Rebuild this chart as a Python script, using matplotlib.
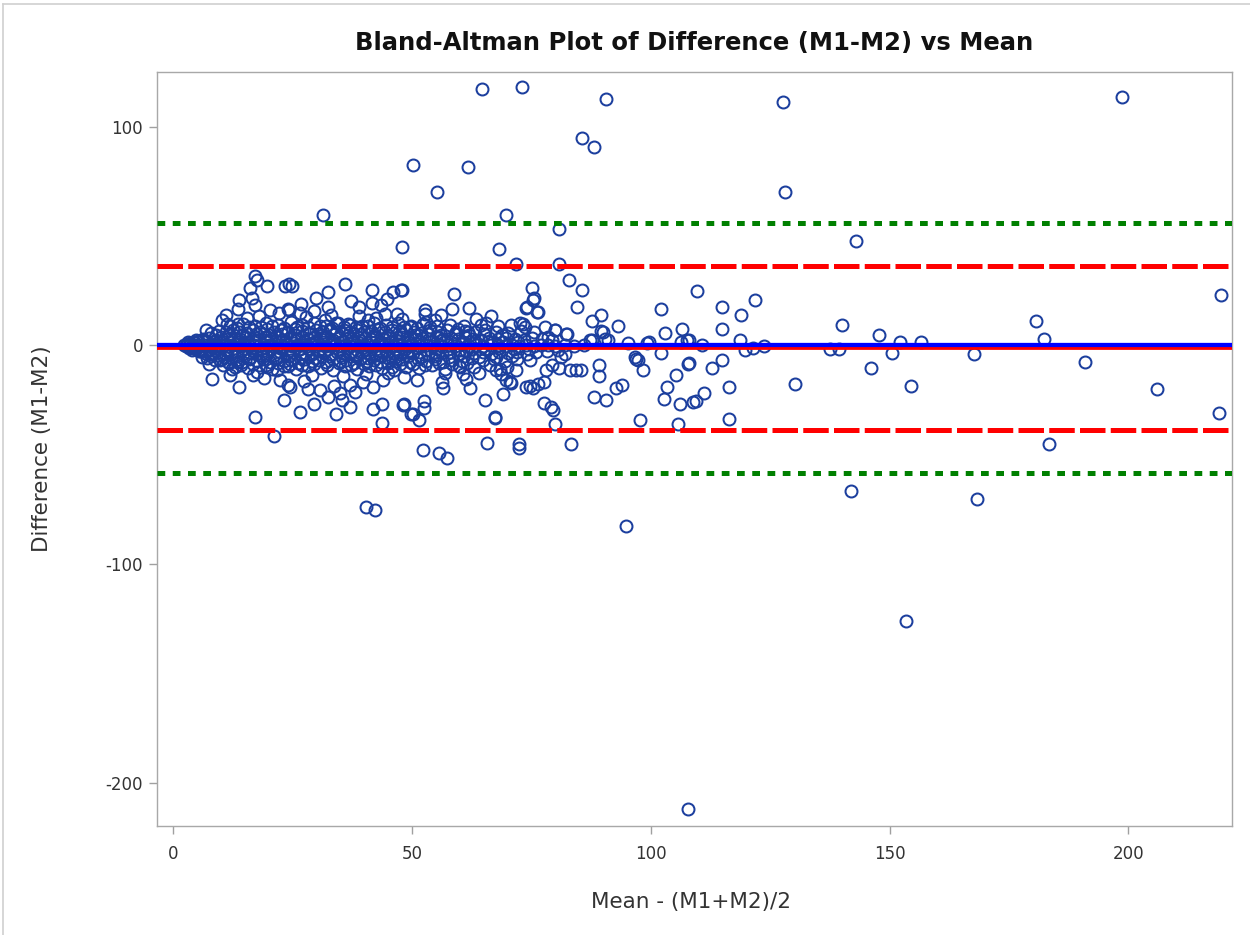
import matplotlib
matplotlib.use("Agg")
import matplotlib.pyplot as plt
from matplotlib.lines import Line2D

plt.rcParams['font.family'] = ['DejaVu Sans']
plt.rcParams['axes.unicode_minus'] = False

# summary stats of the differences
mean_diff = -1.2
loa_upper = 36.3
loa_lower = -38.7
sd3_upper = 56.0
sd3_lower = -58.4

# (mean, difference) pairs
tip_pts = [(2.4, 0.2), (2.7, -0.5), (3.0, 0.8), (3.3, -1.0), (3.6, 1.2), (4.0, -1.4),
           (4.4, 1.6), (4.8, -1.8), (5.2, 2.0), (5.7, -2.2), (6.2, 2.3), (3.2, 1.5),
           (4.0, -2.0), (4.8, 2.4), (5.6, -2.6), (6.6, -2.4)]

line_pts = [(2.8, 0.0), (3.5, 0.2), (4.2, -0.3), (5.0, 0.1), (5.8, -0.2), (6.6, 0.3),
            (7.4, -0.1), (8.2, 0.2), (9.0, -0.4), (9.8, 0.1), (10.6, 0.3), (11.5, -0.2),
            (12.4, 0.0), (13.3, 0.4), (14.2, -0.3), (15.1, 0.1), (16.0, -0.1), (17.0, 0.3),
            (18.0, -0.4), (19.0, 0.2), (20.0, 0.0), (21.0, -0.2), (22.0, 0.3), (23.0, -0.1),
            (24.0, 0.1), (25.0, -0.3), (26.0, 0.2), (27.0, 0.0), (28.0, -0.2), (29.0, 0.4),
            (30.0, -0.1), (31.0, 0.1), (32.0, -0.4), (33.0, 0.2), (34.0, 0.0), (35.0, -0.2),
            (36.0, 0.3), (37.0, -0.1), (38.0, 0.1), (39.0, -0.3), (40.0, 0.2), (41.0, 0.0),
            (42.0, -0.2), (43.0, 0.4), (44.0, -0.1), (45.0, 0.1), (46.0, -0.4), (47.0, 0.2),
            (48.0, 0.0), (49.0, -0.2), (50.0, 0.3), (51.5, -0.1), (53.0, 0.1), (54.5, -0.3),
            (56.0, 0.2), (57.5, 0.0), (59.0, -0.2), (60.5, 0.4), (62.0, -0.1), (63.5, 0.1),
            (65.0, -0.4), (66.5, 0.2), (68.0, 0.0), (69.5, -0.2), (71.0, 0.3), (72.5, -0.1),
            (74.0, 0.1), (75.5, -0.3), (77.0, 0.2), (78.5, 0.0), (80.0, -0.2), (82.0, 0.3),
            (84.0, -0.1), (86.0, 0.2)]

band_upper_pts = [(6.2, 2.8), (7.5, 3.4), (8.9, 2.6), (10.1, 3.7), (11.4, 2.9), (12.8, 3.5),
                  (14.0, 2.7), (15.3, 3.9), (16.7, 3.1), (18.0, 2.5), (19.2, 3.6), (20.5, 3.0),
                  (21.9, 3.8), (23.1, 2.6), (24.4, 3.3), (25.8, 2.9), (27.1, 3.7), (28.3, 2.7),
                  (29.6, 3.4), (31.0, 3.0), (32.3, 3.8), (33.5, 2.6), (34.8, 3.5), (36.2, 3.1),
                  (37.5, 2.8), (38.7, 3.6), (40.1, 3.2), (41.4, 2.7), (42.6, 3.9), (44.0, 3.0),
                  (45.3, 3.4), (46.6, 2.6), (48.0, 3.7), (49.3, 3.1), (50.7, 2.8), (52.1, 3.5),
                  (53.6, 3.0), (55.0, 3.8), (56.5, 2.7), (58.1, 3.3), (59.6, 2.9), (61.2, 3.6),
                  (62.9, 3.0), (64.5, 2.5), (66.2, 3.4), (68.0, 2.8), (69.7, 3.5), (71.5, 3.0),
                  (73.4, 2.6), (75.2, 3.3), (77.3, 2.7),
                  (8.0, 5.8), (9.6, 6.7), (11.0, 6.0), (12.5, 7.2), (13.9, 6.3), (15.4, 5.7),
                  (16.8, 6.9), (18.3, 6.2), (19.7, 7.4), (21.2, 5.9), (22.6, 6.8), (24.1, 6.1),
                  (25.5, 7.3), (27.0, 6.4), (28.4, 5.8), (29.9, 7.0), (31.3, 6.2), (32.8, 7.5),
                  (34.2, 6.0), (35.7, 6.9), (37.1, 6.3), (38.6, 7.2), (40.0, 5.9), (41.5, 6.7),
                  (42.9, 7.4), (44.4, 6.1), (45.8, 6.8), (47.3, 6.0), (48.8, 7.1), (50.4, 6.3),
                  (52.0, 5.8), (53.8, 6.9), (55.5, 6.2), (57.3, 7.0), (59.2, 6.0), (61.1, 6.6),
                  (63.2, 5.9), (65.4, 6.8), (67.7, 6.1), (70.1, 5.8), (72.8, 6.5), (75.6, 6.0),
                  (12.0, 9.0), (14.6, 9.8), (17.1, 8.9), (19.5, 10.2), (22.0, 9.3), (24.6, 10.6),
                  (27.1, 9.1), (29.5, 10.0), (32.0, 8.8), (34.5, 10.4), (37.0, 9.5), (39.6, 8.9),
                  (42.0, 10.3), (44.5, 9.2), (47.1, 10.1), (49.8, 9.0), (52.4, 9.7), (55.2, 8.8),
                  (58.0, 9.4), (61.0, 8.9), (64.5, 9.3), (68.0, 8.8)]

band_lower_pts = [(5.5, -2.6), (6.8, -3.3), (8.2, -3.9), (9.5, -2.9), (10.8, -3.6), (12.1, -4.1),
                  (13.4, -3.0), (14.7, -3.8), (16.0, -3.2), (17.4, -4.0), (18.6, -2.8), (19.9, -3.5),
                  (21.2, -4.2), (22.5, -3.1), (23.8, -3.7), (25.2, -2.9), (26.5, -4.0), (27.7, -3.3),
                  (29.0, -3.8), (30.4, -2.8), (31.7, -3.6), (33.0, -4.1), (34.3, -3.0), (35.6, -3.7),
                  (37.0, -3.2), (38.3, -4.0), (39.6, -2.9), (40.9, -3.5), (42.3, -4.2), (43.6, -3.1),
                  (44.9, -3.8), (46.2, -3.3), (47.6, -4.0), (48.9, -2.9), (50.3, -3.6), (51.8, -3.1),
                  (53.3, -3.9), (54.9, -3.0), (56.4, -3.7), (58.0, -3.2), (59.7, -4.0), (61.3, -2.8),
                  (63.0, -3.5), (64.8, -3.1), (66.5, -3.9), (68.3, -2.9), (70.2, -3.6), (72.0, -3.0),
                  (74.1, -3.8), (76.0, -3.2), (78.2, -2.7),
                  (7.2, -5.9), (8.7, -6.8), (10.2, -6.1), (11.6, -7.4), (13.1, -6.5), (14.5, -7.8),
                  (16.0, -6.2), (17.5, -7.1), (18.9, -6.4), (20.4, -7.7), (21.8, -6.0), (23.3, -7.2),
                  (24.7, -6.6), (26.2, -7.9), (27.6, -6.3), (29.1, -7.0), (30.5, -6.5), (32.0, -7.6),
                  (33.4, -6.1), (34.9, -7.3), (36.3, -6.7), (37.8, -7.9), (39.2, -6.2), (40.7, -7.0),
                  (42.1, -6.6), (43.6, -7.5), (45.0, -6.0), (46.5, -7.1), (48.0, -6.4), (49.6, -7.6),
                  (51.3, -6.3), (53.0, -7.0), (54.8, -6.1), (56.6, -7.4), (58.5, -6.5), (60.5, -7.2),
                  (62.6, -6.0), (64.8, -6.8), (67.1, -6.2), (69.5, -7.0), (72.0, -6.4), (74.8, -6.9),
                  (10.5, -9.0), (13.0, -9.8), (15.6, -10.4), (18.1, -9.2), (20.7, -10.6), (23.2, -9.5),
                  (25.8, -11.0), (28.3, -9.3), (30.9, -10.2), (33.5, -11.3), (36.0, -9.6), (38.6, -10.8),
                  (41.1, -9.4), (43.7, -10.5), (46.2, -11.1), (48.8, -9.7), (51.5, -10.3), (54.2, -9.1),
                  (57.0, -10.6), (59.8, -9.4), (63.0, -10.0), (66.4, -9.2), (70.0, -9.8)]

band_fill_pts = [(5.3, 1.4), (6.9, 1.8), (8.6, 1.5), (10.2, 1.9), (11.9, 1.3), (13.7, 1.7),
                 (15.5, 1.5), (17.4, 2.0), (19.5, 1.4), (21.5, 1.8), (23.4, 1.6), (25.4, 1.2),
                 (27.4, 1.9), (29.5, 1.5), (31.5, 1.7), (33.4, 1.3), (35.5, 1.8), (37.5, 1.6),
                 (39.4, 2.0), (41.5, 1.4), (43.5, 1.7), (45.4, 1.5), (47.4, 1.9), (49.5, 1.3),
                 (51.6, 1.7), (53.8, 1.5), (56.0, 1.8), (58.3, 1.4), (60.8, 1.6), (63.3, 1.9),
                 (66.0, 1.4), (69.0, 1.7), (72.2, 1.5),
                 (4.5, -1.2), (6.0, -1.6), (7.7, -1.9), (9.4, -1.5), (11.1, -2.0), (12.9, -1.4),
                 (14.8, -1.8), (16.6, -2.1), (18.5, -1.6), (20.5, -1.9), (22.4, -1.4), (24.5, -2.0),
                 (26.5, -1.7), (28.5, -1.5), (30.6, -2.1), (32.5, -1.6), (34.5, -1.9), (36.6, -1.4),
                 (38.5, -2.0), (40.5, -1.7), (42.6, -1.5), (44.5, -2.1), (46.5, -1.6), (48.6, -1.9),
                 (50.8, -1.4), (53.0, -2.0), (55.3, -1.7), (57.6, -1.5), (60.0, -2.0), (62.6, -1.6),
                 (65.3, -1.9), (68.2, -1.4), (71.3, -1.8), (74.6, -1.5),
                 (9.0, 4.6), (11.8, 5.1), (14.5, 4.8), (17.3, 5.3), (20.0, 4.7), (22.8, 5.0),
                 (25.6, 4.5), (28.4, 5.2), (31.1, 4.8), (33.9, 5.1), (36.7, 4.6), (39.4, 5.3),
                 (42.2, 4.9), (45.0, 4.5), (47.8, 5.2), (50.6, 4.8), (53.4, 5.0), (56.2, 4.6),
                 (59.0, 5.1), (62.0, 4.7), (65.2, 5.0), (68.8, 4.6),
                 (8.0, -4.9), (10.6, -5.4), (13.3, -5.0), (16.1, -5.6), (18.8, -5.1), (21.6, -5.5),
                 (24.3, -4.9), (27.1, -5.3), (29.8, -5.7), (32.6, -5.0), (35.3, -5.4), (38.1, -5.1),
                 (40.9, -5.6), (43.6, -4.9), (46.4, -5.3), (49.2, -5.0), (52.0, -5.5), (54.9, -5.1),
                 (57.8, -5.4), (60.9, -4.9), (64.1, -5.2), (67.6, -5.5), (71.0, -5.0),
                 (13.3, 8.0), (15.9, 8.6), (18.4, 8.2), (20.8, 8.8), (23.3, 8.1), (25.9, 8.5),
                 (28.3, 8.3), (30.8, 8.9), (33.3, 8.0), (35.8, 8.6), (38.3, 8.2), (40.8, 8.7),
                 (43.3, 8.1), (45.8, 8.5), (48.4, 8.3), (51.1, 8.0), (53.8, 8.4),
                 (11.8, -8.3), (14.3, -8.8), (16.8, -8.5), (19.4, -9.0), (21.9, -8.2), (24.5, -8.7),
                 (27.0, -9.1), (29.6, -8.4), (32.2, -8.9), (34.8, -8.2), (37.3, -8.8), (39.9, -8.5),
                 (42.4, -9.0), (45.0, -8.3), (47.5, -8.7), (50.2, -8.4), (52.8, -8.9), (55.6, -8.2),
                 (58.5, -8.6), (61.5, -8.3)]

spread_left_pts = [(8.1, -15.2), (13.8, -19.2), (23.2, -25.2), (24.1, -18.3), (17.2, 31.6),
                   (17.5, 30.1), (16.1, 26.4), (19.6, 27.0), (23.4, 27.0), (13.9, 20.6),
                   (13.7, 16.5), (17.2, 18.6), (11.1, 13.7), (10.3, 11.8), (11.2, 9.9),
                   (13.7, 9.9), (18.0, 13.3), (20.3, 16.0), (22.2, 14.8), (24.0, 16.8),
                   (6.9, 7.2), (6.0, -5.3), (7.6, -8.7), (9.8, -6.9), (12.3, -10.7),
                   (13.5, -7.6), (16.8, -13.7), (17.5, -12.2), (19.6, -9.9), (21.7, -11.4),
                   (24.0, -9.6), (25.0, 27.0), (24.3, 27.9), (32.4, 24.4), (36.1, 28.2),
                   (41.7, 25.5), (46.1, 24.4), (47.7, 25.2), (24.3, 16.3), (26.9, 19.1),
                   (29.6, 15.7), (32.4, 17.5), (37.2, 20.3), (38.9, 17.5), (41.6, 19.4),
                   (43.5, 18.6), (46.9, 14.5), (48.0, 12.0), (26.6, 14.8), (31.8, 11.4),
                   (34.2, 10.2), (36.7, 9.9), (40.9, 11.4), (44.4, 14.5), (24.5, -19.1),
                   (28.2, -19.8), (30.8, -20.6), (33.7, -18.8), (37.0, -18.3), (39.8, -16.8),
                   (41.9, -19.1), (44.0, -16.0), (45.8, -9.9), (26.6, -30.5), (29.6, -26.7),
                   (34.2, -31.3), (37.0, -28.2), (41.9, -29.3), (43.7, -26.7), (48.2, -27.5),
                   (49.9, -31.6), (35.3, -25.2), (32.5, -23.7), (15.5, 12.5), (19.0, -14.8),
                   (27.8, 12.8), (29.0, -13.5), (33.0, 13.9), (35.5, -14.2), (39.0, 13.2),
                   (40.5, -13.0), (45.0, -12.8), (42.5, 12.6), (30.0, 21.8), (35.0, -22.0),
                   (38.0, -21.5), (27.5, -16.5), (22.5, -16.0), (12.0, -13.5), (16.5, 21.5),
                   (44.8, 21.3)]

spread_mid_pts = [(65.5, 10.2), (70.7, 9.5), (73.3, 9.9), (74.0, 16.9), (76.5, 15.2),
                  (75.3, 20.6), (82.4, 5.0), (79.9, 7.2), (87.7, 2.6), (90.0, 6.1),
                  (80.8, -10.5), (83.2, -11.1), (84.3, -11.1), (85.5, -11.1), (79.4, -9.2),
                  (77.6, -16.8), (75.4, -19.4), (74.7, -18.8), (62.1, -19.4), (56.6, -19.4),
                  (56.4, -16.8), (51.0, -16.0), (48.3, -14.5), (67.7, -11.4), (68.4, -10.7),
                  (71.9, -11.1), (69.8, -16.0), (70.7, -17.2), (65.3, -25.2), (69.0, -22.1),
                  (48.3, -27.0), (52.5, -25.6), (52.5, -28.8), (50.2, -31.6), (51.5, -34.3),
                  (79.6, -29.7), (77.6, -26.4), (79.2, -28.2), (67.5, -32.8), (60.8, -13.0),
                  (61.4, -15.2), (60.0, -9.9), (70.5, -16.8), (74.0, -19.1), (76.4, -17.5),
                  (78.1, -11.4), (68.7, -13.0), (80.6, -2.3), (82.0, -3.8), (81.3, -5.3),
                  (77.8, 8.4), (79.9, 6.9), (82.2, 5.0), (79.4, 2.3), (78.5, 3.8),
                  (52.7, 14.5), (56.2, 13.7), (54.8, 11.8), (52.9, 10.7), (72.6, 10.2),
                  (73.6, 8.4), (59.7, 7.6), (61.8, 6.1), (49.6, 8.4), (57.0, -12.5),
                  (63.5, 12.0), (64.0, -12.8), (58.5, 16.5), (62.0, 17.0), (66.5, 13.5),
                  (84.6, 17.5), (82.9, 29.7), (85.7, 25.5), (75.2, 26.2), (75.5, 21.8),
                  (48.0, 25.5), (58.8, 23.6), (74.2, 17.5), (76.3, 15.1), (52.7, 16.0)]

spread_right_pts = [(114.9, 17.4), (119.0, 13.7), (121.8, 20.6), (114.9, 7.3), (108.0, 2.3),
                    (110.7, 0.0), (108.0, -8.2), (112.8, -10.5), (114.9, -6.9), (118.6, 2.3),
                    (119.7, -2.3), (121.5, -1.4), (123.8, -0.5), (111.1, -21.8), (109.4, -25.5),
                    (116.5, -19.2), (130.3, -17.5), (137.5, -1.5), (139.5, -1.5), (140.0, 9.2),
                    (146.2, -10.5), (147.7, 4.6), (150.6, -3.5), (152.3, 1.4), (154.4, -18.6),
                    (156.5, 1.4), (167.6, -4.1), (180.7, 11.0), (182.4, 2.7), (191.0, -7.8),
                    (205.9, -20.1), (219.5, 22.9), (109.6, 24.7), (102.2, 16.5), (102.9, 5.8),
                    (106.6, 7.6), (107.7, 2.6), (106.4, 1.5), (95.3, 1.0), (99.6, 1.7),
                    (99.3, 0.9), (102.2, -3.6), (96.7, -5.3), (97.3, -6.9), (98.4, -11.4),
                    (103.4, -19.1), (102.8, -24.4), (106.1, -27.0), (105.4, -13.7), (107.8, -8.4),
                    (108.9, -25.9), (93.2, 8.7), (89.7, 13.9), (87.8, 11.1), (89.7, 6.4),
                    (90.4, 3.1), (91.1, 2.3), (87.4, 2.3), (92.8, -19.4), (94.1, -18.3),
                    (88.2, -23.7), (90.7, -24.9), (89.1, -14.2), (89.1, -9.2), (97.0, -6.1)]

outlier_pts = [(64.6, 117.2), (73.1, 118.2), (90.6, 112.7), (198.7, 113.5), (127.8, 111.2),
               (85.7, 94.9), (88.2, 90.5), (50.3, 82.4), (61.7, 81.6), (55.2, 69.9),
               (128.2, 70.0), (31.4, 59.5), (69.8, 59.4), (80.8, 53.0), (142.9, 47.6),
               (48.0, 45.0), (68.2, 44.1), (71.9, 37.1), (80.8, 37.4),
               (107.8, -212.0), (153.5, -125.9), (94.8, -82.4), (40.4, -74.1), (42.3, -75.5),
               (168.4, -70.3), (142.0, -66.7), (52.4, -48.0), (55.6, -49.1), (57.4, -51.4),
               (65.8, -44.5), (72.4, -45.3), (72.4, -47.1), (83.3, -45.3), (183.3, -45.3),
               (21.2, -41.6), (17.2, -32.8), (43.7, -35.5), (97.7, -34.3), (105.8, -36.2),
               (116.5, -33.5), (67.4, -33.4), (79.9, -35.8), (219.0, -31.0)]

all_pts = (tip_pts + line_pts + band_upper_pts + band_lower_pts + band_fill_pts
           + spread_left_pts + spread_mid_pts + spread_right_pts + outlier_pts)
means = [p[0] for p in all_pts]
diffs = [p[1] for p in all_pts]

fig = plt.figure(figsize=(12.5, 9.35), dpi=100)
ax = fig.add_axes([0.1256, 0.1166, 0.8600, 0.8064])

ax.plot(means, diffs, linestyle='none', marker='o', markersize=8.6, markerfacecolor='none',
        markeredgecolor='#1c3f9e', markeredgewidth=1.45, zorder=2)

# reference lines, drawn over the points
ax.axhline(0, color='#0000ff', linewidth=3.8, zorder=3)
ax.axhline(mean_diff, color='#ff0000', linewidth=2.0, zorder=4)
ax.axhline(loa_upper, color='#ff0000', linewidth=3.6, dashes=(5.1, 1.05), dash_capstyle='butt', zorder=4)
ax.axhline(loa_lower, color='#ff0000', linewidth=3.6, dashes=(5.1, 1.05), dash_capstyle='butt', zorder=4)
ax.axhline(sd3_upper, color='#008000', linewidth=3.6, dashes=(1.55, 1.5), dash_capstyle='butt', zorder=4)
ax.axhline(sd3_lower, color='#008000', linewidth=3.6, dashes=(1.55, 1.5), dash_capstyle='butt', zorder=4)

ax.set_xlim(-3.35, 221.7)
ax.set_ylim(-219.8, 125.0)
ax.set_xticks([0, 50, 100, 150, 200])
ax.set_yticks([-200, -100, 0, 100])

for s in ax.spines.values():
    s.set_color('#a8a8a8')
    s.set_linewidth(1.0)
ax.tick_params(direction='out', length=6, width=1.0, color='#a0a0a0',
               labelcolor='#333333', labelsize=12)
ax.tick_params(axis='y', pad=4)
ax.tick_params(axis='x', pad=8)

ax.set_title('Bland-Altman Plot of Difference (M1-M2) vs Mean', fontsize=17.5,
             fontweight='bold', color='#111111', y=1.028, va='center')
ax.set_xlabel('Mean - (M1+M2)/2', fontsize=15.5, color='#333333')
ax.set_ylabel('Difference (M1-M2)', fontsize=15.5, color='#333333')
ax.xaxis.set_label_coords(0.497, -0.1008)
ax.xaxis.label.set_va('center')
ax.yaxis.set_label_coords(-0.107, 0.5)
ax.yaxis.label.set_va('center')

# light frame around the whole graph
fig.add_artist(Line2D([3 / 1250, 3 / 1250], [0, 1 - 4 / 935], color='#d0d0d0', linewidth=1.2))
fig.add_artist(Line2D([3 / 1250, 1], [1 - 4 / 935, 1 - 4 / 935], color='#d0d0d0', linewidth=1.2))

fig.savefig('out.png', dpi=100)
